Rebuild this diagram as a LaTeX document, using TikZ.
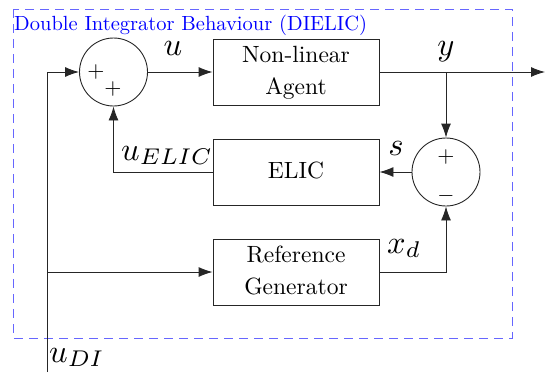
\documentclass[tikz,border=0pt]{standalone}
\usetikzlibrary{arrows.meta}
\newcommand{\mtxt}[1]{\scalebox{2.35}{\renewcommand{\arraystretch}{1.13}\begin{tabular}{@{}c@{}}#1\end{tabular}}}
\newcommand{\mlab}[1]{\scalebox{3.25}{$#1$}}
\begin{document}
\begin{tikzpicture}[x=1pt,y=-1pt,
 blk/.style={draw=black!85, line width=0.9pt, minimum width=166pt, minimum height=66pt, align=center, inner sep=0pt},
 sumc/.style={draw=black!85, circle, line width=0.9pt, minimum size=68pt, inner sep=0pt},
 conn/.style={line width=0.9pt, draw=black!85},
 arr/.style={conn, -{Latex[length=14pt,width=10pt]}},
 lab/.style={inner sep=0pt},
 sgn/.style={inner sep=0pt}]
\useasboundingbox (0,0) rectangle (545,372);
\draw[blue!60, dash pattern=on 9pt off 6pt, line width=0.9pt] (13,9) rectangle (512,338);
\node[anchor=base west, text=blue, inner sep=0pt] (title) at (14,30) {\scalebox{2.05}{Double Integrator Behaviour (DIELIC)}};

\node[sumc] (sum1) at (113.5,72) {};
\node[blk] (nla) at (296,72) {\mtxt{Non-linear\\Agent}};
\node[blk] (elic) at (296,172) {\mtxt{ELIC}};
\node[blk] (ref) at (296,272) {\mtxt{Reference\\Generator}};
\node[sumc] (sum2) at (446,172) {};

\node[sgn] (p1) at (96,72) {\scalebox{2.2}{$+$}};
\node[sgn] (p2) at (113,89) {\scalebox{2.2}{$+$}};
\node[sgn] (p3) at (446,157) {\scalebox{2.2}{$+$}};
\node[sgn] (m1) at (446,196) {\scalebox{2.2}{$-$}};

\coordinate (out) at (545,72);
\coordinate (in) at (47,372);

\draw[arr] (sum1.east) -- (nla.west);
\draw[arr] (nla.east) -- (out);
\draw[arr] (sum2 |- nla.east) -- (sum2.north);
\draw[arr] (sum2.west) -- (elic.east);
\draw[arr] (elic.west) -| (sum1.south);
\draw[arr] (ref.east) -| (sum2.south);
\draw[arr] (in) |- (sum1.west);
\draw[arr] (in |- ref.west) -- (ref.west);

\node[lab, anchor=base] (lu) at (173,55) {\mlab{u}};
\node[lab, anchor=base] (ly) at (446,55) {\mlab{y}};
\node[lab, anchor=base] (ls) at (396,155) {\mlab{s}};
\node[lab, anchor=base west] (lue) at (121,160) {\mlab{u_{ELIC}}};
\node[lab, anchor=base west] (lxd) at (387,253) {\mlab{x_d}};
\node[lab, anchor=base west] (ldi) at (49,362) {\mlab{u_{DI}}};
\end{tikzpicture}
\end{document}
